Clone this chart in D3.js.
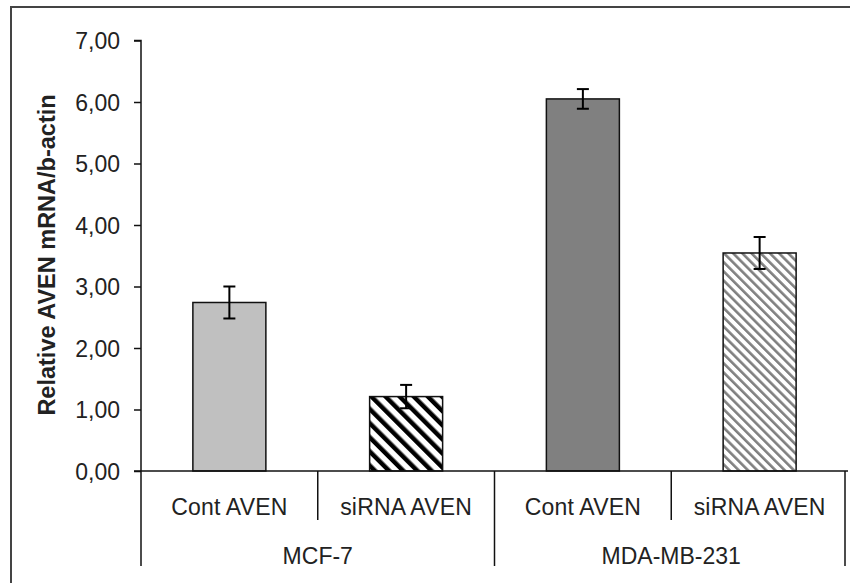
<!DOCTYPE html>
<html>
<head>
<meta charset="utf-8">
<script src="https://cdn.jsdelivr.net/npm/d3@7"></script>
<style>
  body { margin: 0; background: #fff; }
  text { font-family: "Liberation Sans", Arial, sans-serif; fill: #222; }
</style>
</head>
<body>
<div id="chart"></div>
<script>
var width = 850, height = 583;

// data
var cellLines = ["MCF-7", "MDA-MB-231"];
var treatments = ["Cont AVEN", "siRNA AVEN", "Cont AVEN", "siRNA AVEN"];
var values = [2.74, 1.21, 6.05, 3.545];
var errors = [0.26, 0.19, 0.16, 0.26];
var yTicks = [0, 1, 2, 3, 4, 5, 6, 7];
var yTitle = "Relative AVEN mRNA/b-actin";

var fills = ["#c0c0c0", "url(#hatchBlack)", "#808080", "url(#hatchGray)"];

var plotLeft = 141, plotRight = 848, plotTop = 40.5, plotBottom = 471;

var svg = d3.select("#chart")
  .append("svg")
  .attr("width", width)
  .attr("height", height);

// hatch patterns
var defs = svg.append("defs");
function hatch(id, period, lw, color) {
  var p = defs.append("pattern")
    .attr("id", id)
    .attr("patternUnits", "userSpaceOnUse")
    .attr("width", period)
    .attr("height", period)
    .attr("patternTransform", "rotate(-45)");
  p.append("rect").attr("width", period).attr("height", period).attr("fill", "#fff");
  p.append("rect").attr("x", 0).attr("y", 0).attr("width", lw).attr("height", period).attr("fill", color);
}
hatch("hatchBlack", 10, 4.5, "#000");
hatch("hatchGray", 6.5, 2.6, "#808080");

// outer frame (only top and left edges are inside the picture)
svg.append("path")
  .attr("d", "M11," + height + "V7H" + width)
  .attr("fill", "none")
  .attr("stroke", "#444")
  .attr("stroke-width", 2);

var y = d3.scaleLinear().domain([0, 7]).range([plotBottom, plotTop]);
var x = d3.scaleBand().domain(d3.range(values.length)).range([plotLeft, plotRight]);
var barW = x.bandwidth() * 0.413;

// y axis
var yAxis = d3.axisLeft(y)
  .tickValues(yTicks)
  .tickSize(7)
  .tickPadding(14)
  .tickFormat(function(d) { return d3.format(".2f")(d).replace(".", ","); });

var ya = svg.append("g")
  .attr("transform", "translate(" + plotLeft + ",0)")
  .call(yAxis);
ya.select(".domain").attr("stroke", "#111").attr("stroke-width", 1.5)
  .attr("d", "M-7," + plotTop + "H0V" + plotBottom);
ya.selectAll(".tick line").attr("stroke", "#111").attr("stroke-width", 1.5);
ya.selectAll(".tick text")
  .style("font-size", "23px")
  .attr("fill", "#222")
  .attr("dy", "0.36em");

// y title
svg.append("text")
  .attr("transform", "translate(55,255) rotate(-90)")
  .attr("text-anchor", "middle")
  .style("font-size", "23.5px")
  .style("font-weight", "bold")
  .attr("fill", "#111")
  .text(yTitle);

// bars
svg.append("g")
  .selectAll("rect")
  .data(values)
  .enter()
  .append("rect")
  .attr("x", function(d, i) { return x(i) + (x.bandwidth() - barW) / 2; })
  .attr("y", function(d) { return y(d); })
  .attr("width", barW)
  .attr("height", function(d) { return plotBottom - y(d); })
  .attr("fill", function(d, i) { return fills[i]; })
  .attr("stroke", "#111")
  .attr("stroke-width", 1.5);

// error bars
var eb = svg.append("g")
  .selectAll("g")
  .data(values)
  .enter()
  .append("g")
  .attr("stroke", "#000")
  .attr("stroke-width", 2);

eb.append("line")
  .attr("x1", function(d, i) { return x(i) + x.bandwidth() / 2; })
  .attr("x2", function(d, i) { return x(i) + x.bandwidth() / 2; })
  .attr("y1", function(d, i) { return y(d + errors[i]); })
  .attr("y2", function(d, i) { return y(d - errors[i]); });

[1, -1].forEach(function(s) {
  eb.append("line")
    .attr("x1", function(d, i) { return x(i) + x.bandwidth() / 2 - 6; })
    .attr("x2", function(d, i) { return x(i) + x.bandwidth() / 2 + 6; })
    .attr("y1", function(d, i) { return y(d + s * errors[i]); })
    .attr("y2", function(d, i) { return y(d + s * errors[i]); });
});

// x axis line
svg.append("line")
  .attr("x1", plotLeft - 7).attr("x2", plotRight)
  .attr("y1", plotBottom).attr("y2", plotBottom)
  .attr("stroke", "#111").attr("stroke-width", 1.5);

// short dividers between treatments
svg.append("g")
  .selectAll("line")
  .data([1, 3])
  .enter()
  .append("line")
  .attr("x1", function(i) { return plotLeft + i * x.step(); })
  .attr("x2", function(i) { return plotLeft + i * x.step(); })
  .attr("y1", plotBottom)
  .attr("y2", 520)
  .attr("stroke", "#111").attr("stroke-width", 1.5);

// long dividers between cell lines
svg.append("g")
  .selectAll("line")
  .data([0, 2, 4])
  .enter()
  .append("line")
  .attr("x1", function(i) { return i == 4 ? plotRight - 3 : plotLeft + i * x.step(); })
  .attr("x2", function(i) { return i == 4 ? plotRight - 3 : plotLeft + i * x.step(); })
  .attr("y1", plotBottom)
  .attr("y2", 566)
  .attr("stroke", "#111").attr("stroke-width", 1.5);

// treatment labels
svg.append("g")
  .selectAll("text")
  .data(treatments)
  .enter()
  .append("text")
  .attr("x", function(d, i) { return x(i) + x.bandwidth() / 2; })
  .attr("y", 515)
  .attr("text-anchor", "middle")
  .style("font-size", "23px")
  .style("letter-spacing", "0.2px")
  .text(function(d) { return d; });

// cell line labels
svg.append("g")
  .selectAll("text")
  .data(cellLines)
  .enter()
  .append("text")
  .attr("x", function(d, i) { return plotLeft + (i * 2 + 1) * x.step(); })
  .attr("y", 564)
  .attr("text-anchor", "middle")
  .style("font-size", "23px")
  .text(function(d) { return d; });
</script>
</body>
</html>
